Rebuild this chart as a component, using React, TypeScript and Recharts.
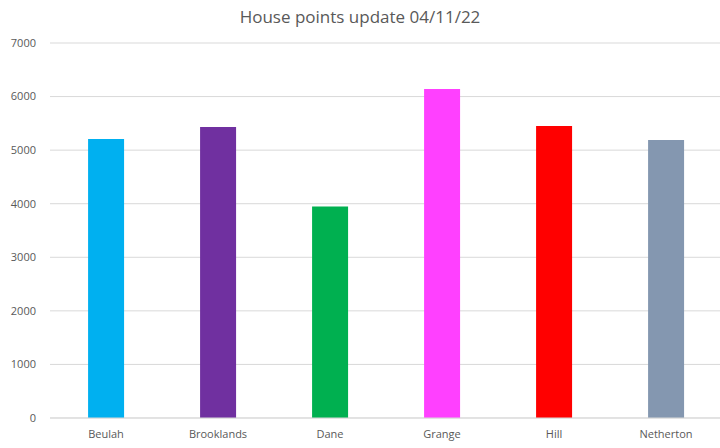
import React from "react";
import { BarChart, Bar, XAxis, YAxis, CartesianGrid, Cell } from "recharts";

const houses = ["Beulah", "Brooklands", "Dane", "Grange", "Hill", "Netherton"];
const points = [5210, 5430, 3950, 6140, 5450, 5190];
const colors = ["#00B0F0", "#7030A0", "#00B050", "#FF40FF", "#FF0000", "#8497B0"];
const yTicks = [0, 1000, 2000, 3000, 4000, 5000, 6000, 7000];
const title = "House points update 04/11/22";

const data = houses.map((h, i) => ({ house: h, points: points[i] }));

const font = "'Open Sans', 'Noto Sans', sans-serif";

export default function App() {
  return (
    <div style={{ position: "absolute", left: 0, top: 0, width: 720, height: 448, overflow: "hidden", background: "#fff" }}>
      <div
        style={{
          position: "absolute",
          left: 0,
          top: 4,
          width: 720,
          textAlign: "center",
          fontFamily: font,
          fontSize: 17,
          color: "#595959",
          lineHeight: "26px",
        }}
      >
        {title}
      </div>
      <BarChart
        width={724}
        height={448}
        data={data}
        margin={{ top: 43, right: 2, bottom: 0, left: 0 }}
        barCategoryGap="34%"
      >
        <CartesianGrid vertical={false} stroke="#d9d9d9" />
        <XAxis
          dataKey="house"
          height={30}
          tickLine={false}
          tickSize={0}
          tickMargin={12}
          axisLine={{ stroke: "#d9d9d9" }}
          tick={{ fill: "#595959", fontSize: 11, fontFamily: font }}
          interval={0}
        />
        <YAxis
          width={50}
          domain={[0, 7000]}
          ticks={yTicks}
          axisLine={false}
          tickLine={false}
          tickSize={0}
          tickMargin={14}
          tick={{ fill: "#595959", fontSize: 11, fontFamily: font }}
        />
        <Bar dataKey="points" isAnimationActive={false}>
          {data.map((d, i) => (
            <Cell key={d.house} fill={colors[i]} />
          ))}
        </Bar>
      </BarChart>
    </div>
  );
}
